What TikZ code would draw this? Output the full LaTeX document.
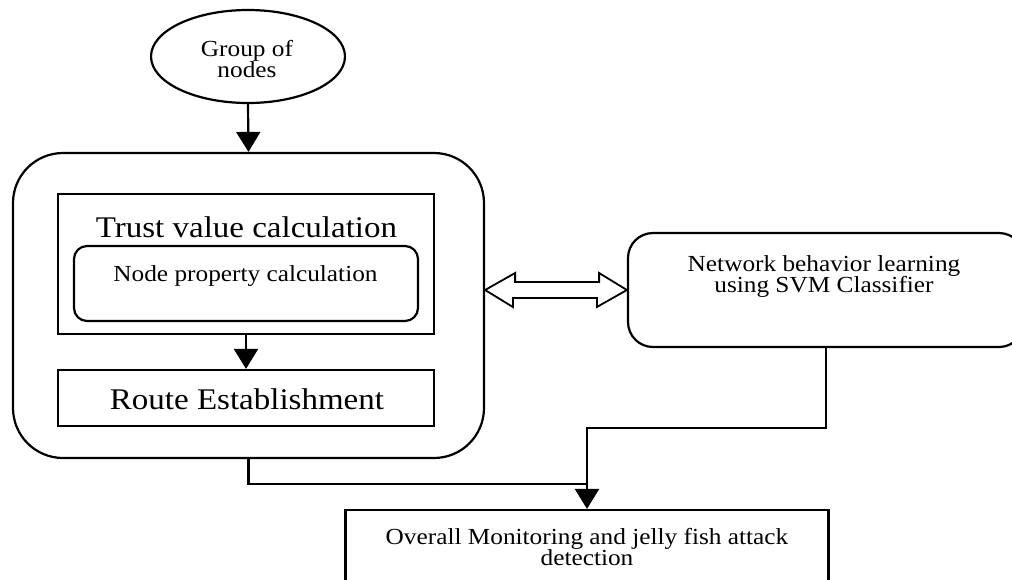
\documentclass[tikz,border=0pt]{standalone}
\usepackage{fontspec}
\setmainfont{Liberation Serif}[FakeStretch=1.1]
\usetikzlibrary{arrows.meta,shapes.geometric}

\begin{document}
\begin{tikzpicture}[x=1pt,y=-1pt,
  line width=2.2pt,
  box/.style={draw, rectangle, inner sep=0pt},
  small/.style={font=\fontsize{23}{22}\selectfont, inner sep=0pt, anchor=base},
  big/.style={font=\fontsize{30}{30}\selectfont, inner sep=0pt, anchor=base},
  flow/.style={-{Triangle[length=20pt,width=24pt]}},
]
\useasboundingbox (0,0) rectangle (1012,579);
\clip (0,0) rectangle (1012,579);

% start node
\node[draw, ellipse, inner sep=0pt, minimum width=194pt, minimum height=93pt] (group) at (248,56.5) {};
\node[small] (g1) at (247,56) {Group of};
\node[small] (g2) at (247,77) {nodes};

% routing block
\node[box, rounded corners=50pt, minimum width=471pt, minimum height=305pt] (outer) at (248.5,305.5) {};
\node[box, minimum width=376pt, minimum height=140pt] (trust) at (246,264) {};
\node[big] (trustlbl) at (246.5,237) {Trust value calculation};
\node[box, rounded corners=13pt, minimum width=344pt, minimum height=75pt] (prop) at (246,283.5) {};
\node[small] (proplbl) at (245.5,281.5) {Node property calculation};
\node[box, minimum width=376pt, minimum height=56pt] (route) at (246,398) {};
\node[big] (routelbl) at (247,409) {Route Establishment};

% learning block
\node[box, rounded corners=25pt, minimum width=396pt, minimum height=114pt] (svm) at (826,290) {};
\node[small] (s1) at (824,271.5) {Network behavior learning};
\node[small] (s2) at (824,292.5) {using SVM Classifier};

% monitoring block
\node[box, minimum width=483pt, minimum height=120pt] (monitor) at (587,570) {};
\node[small] (m1) at (587,544) {Overall Monitoring and jelly fish attack};
\node[small] (m2) at (587,565) {detection};

% connectors
\coordinate (j1) at (587,484);
\coordinate (j2) at (587,428);
\draw[flow] (group.south) -- (outer.north);
\draw[flow] (trust.south) -- (route.north);
\draw (outer.south) |- (j1);
\draw[flow] (svm.south) |- (j2) -- (monitor.north);

% two-way hollow arrow
\draw[fill=white, line width=1.8pt, line join=miter]
  (outer.east |- svm.west) -- ++(30,-17) -- ++(0,9) -- ++(84,0) -- ++(0,-9)
  -- (svm.west) -- ++(-30,17) -- ++(0,-9) -- ++(-84,0) -- ++(0,9) -- cycle;
\end{tikzpicture}
\end{document}
